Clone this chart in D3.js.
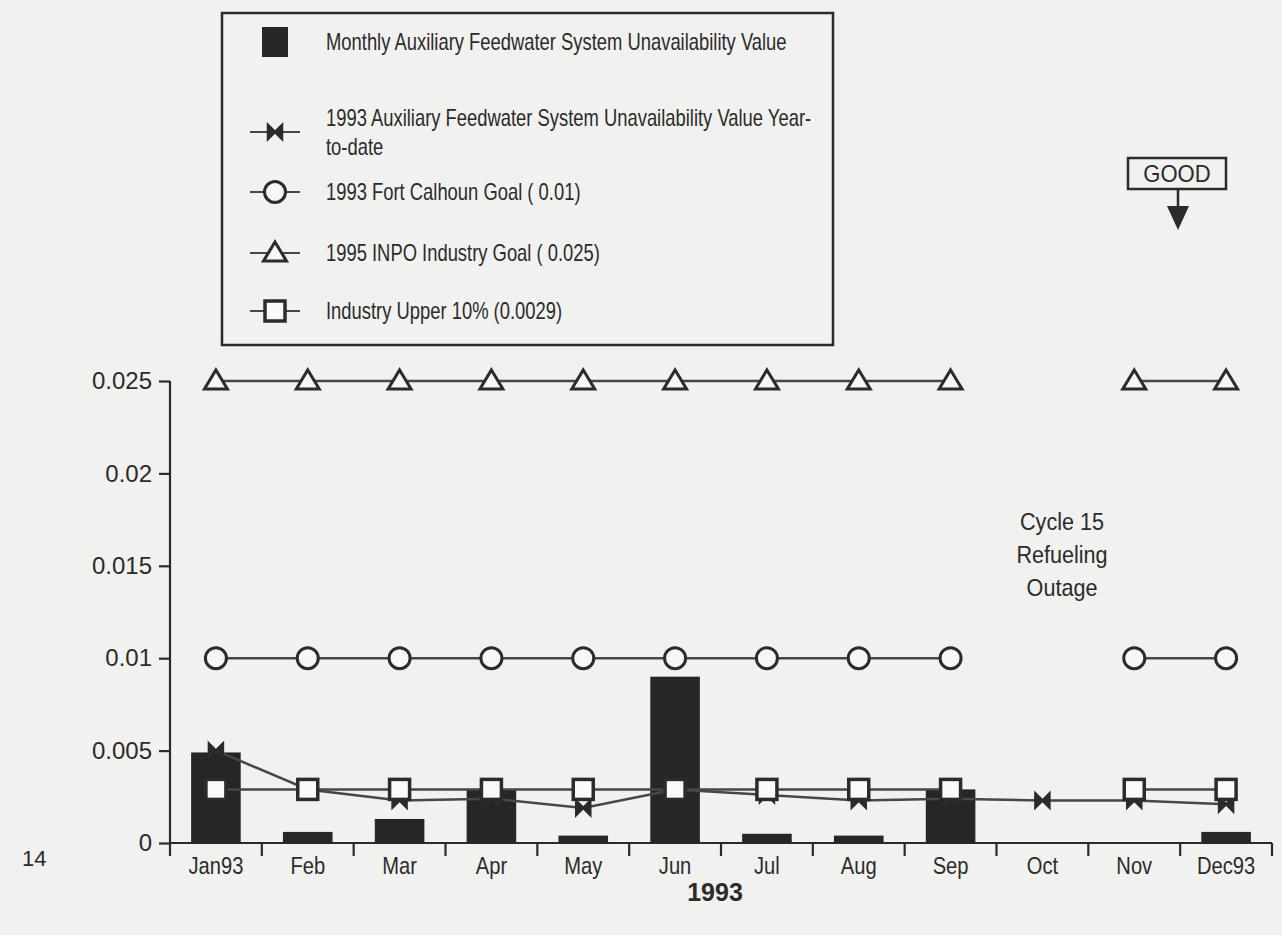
<!DOCTYPE html>
<html>
<head>
<meta charset="utf-8">
<script src="https://cdn.jsdelivr.net/npm/d3@7"></script>
<style>
  html, body { margin: 0; padding: 0; background: #f1f1ef; }
  svg text { font-family: "Liberation Sans", Arial, sans-serif; fill: #2b2b2b; }
</style>
</head>
<body>
<div id="chart"></div>
<script>
// datos
const months = ["Jan93", "Feb", "Mar", "Apr", "May", "Jun", "Jul", "Aug", "Sep", "Oct", "Nov", "Dec93"];
const monthlyValue = [0.0049, 0.0006, 0.0013, 0.0029, 0.0004, 0.0090, 0.0005, 0.0004, 0.0029, null, null, 0.0006];
const ytdValue = [0.0050, 0.0029, 0.0023, 0.0024, 0.0019, 0.0029, 0.0026, 0.0023, 0.0024, 0.0023, 0.0023, 0.0021];
const calhounGoal = [0.01, 0.01, 0.01, 0.01, 0.01, 0.01, 0.01, 0.01, 0.01, null, 0.01, 0.01];
const inpoGoal = [0.025, 0.025, 0.025, 0.025, 0.025, 0.025, 0.025, 0.025, 0.025, null, 0.025, 0.025];
const upper10 = [0.0029, 0.0029, 0.0029, 0.0029, 0.0029, 0.0029, 0.0029, 0.0029, 0.0029, null, 0.0029, 0.0029];
const yTicks = [0, 0.005, 0.01, 0.015, 0.02, 0.025];
const yTickLabels = ["0", "0.005", "0.01", "0.015", "0.02", "0.025"];
const legendLabels = [
  ["Monthly Auxiliary Feedwater System Unavailability Value"],
  ["1993 Auxiliary Feedwater System Unavailability Value Year-", "to-date"],
  ["1993 Fort Calhoun Goal ( 0.01)"],
  ["1995 INPO Industry Goal ( 0.025)"],
  ["Industry Upper 10% (0.0029)"]
];
const noteLines = ["Cycle 15", "Refueling", "Outage"];

const W = 1282, H = 935;
const ink = "#2b2b2b", lineInk = "#474747";

const svg = d3.select("#chart").append("svg")
    .attr("width", W)
    .attr("height", H);

svg.append("rect").attr("width", W).attr("height", H).attr("fill", "#f1f1ef");

// texto un poco estrecho, como la fuente del original
function label(parent, px, py, s, size, sx, anchor) {
  return parent.append("text")
      .attr("transform", "translate(" + px + "," + py + ") scale(" + sx + ",1)")
      .attr("text-anchor", anchor || "start")
      .style("font-size", size + "px")
      .text(s);
}

// escalas
const x = d3.scaleBand().domain(months).range([170, 1272]).paddingInner(0.46).paddingOuter(0.23);
const xc = m => x(m) + x.bandwidth() / 2;
const y = d3.scaleLinear().domain([0, 0.025]).range([843, 381]);

// ejes
const gy = svg.append("g").attr("transform", "translate(170,0)")
    .call(d3.axisLeft(y).tickValues(yTicks).tickFormat((d, i) => yTickLabels[i]).tickSize(11).tickPadding(7));
gy.select(".domain").attr("d", "M0," + y(0.025) + "V" + y(0));
gy.selectAll("path, line").attr("stroke", ink).attr("stroke-width", 2.2);
gy.selectAll("text").style("font-size", "24px").attr("fill", ink);

const boundaries = d3.range(months.length + 1).map(i => 170 + i * (1272 - 170) / months.length);
const gx = svg.append("g").attr("transform", "translate(0," + y(0) + ")");
gx.append("line").attr("x1", 170).attr("x2", 1272).attr("stroke", ink).attr("stroke-width", 2.2);
gx.selectAll("line.tk").data(boundaries).join("line").attr("class", "tk")
    .attr("x1", d => d).attr("x2", d => d).attr("y1", 0).attr("y2", 13)
    .attr("stroke", ink).attr("stroke-width", 2.2);
months.forEach(m => label(gx, xc(m), 31, m, 24, 0.84, "middle"));

// barras mensuales
svg.append("g").selectAll("rect").data(months.map((m, i) => ({ m, v: monthlyValue[i] })).filter(d => d.v))
  .join("rect")
    .attr("x", d => x(d.m)).attr("width", x.bandwidth())
    .attr("y", d => y(d.v)).attr("height", d => y(0) - y(d.v))
    .attr("fill", "#262626");

// simbolos
const bowtie = "M-7,-7L7,7L7,-7L-7,7Z";
function circleSym(g) { g.append("circle").attr("r", 10.5).attr("fill", "#f7f7f5").attr("stroke", ink).attr("stroke-width", 3); }
function triSym(g) { g.append("path").attr("d", "M0,-11L11.5,8L-11.5,8Z").attr("fill", "#f7f7f5").attr("stroke", ink).attr("stroke-width", 3); }
function squareSym(g) { g.append("rect").attr("x", -10).attr("y", -10).attr("width", 20).attr("height", 20).attr("fill", "#fafaf8").attr("stroke", ink).attr("stroke-width", 3.5); }
function bowSym(g) { g.append("path").attr("d", bowtie).attr("fill", ink).attr("stroke", ink).attr("stroke-width", 2.5); }

function series(vals, sym) {
  const pts = months.map((m, i) => ({ m, v: vals[i] }));
  const line = d3.line().defined(d => d.v !== null).x(d => xc(d.m)).y(d => y(d.v));
  svg.append("path").datum(pts).attr("d", line).attr("fill", "none")
      .attr("stroke", lineInk).attr("stroke-width", 2.5);
  svg.append("g").selectAll("g").data(pts.filter(d => d.v !== null)).join("g")
      .attr("transform", d => "translate(" + xc(d.m) + "," + y(d.v) + ")")
      .each(function () { sym(d3.select(this)); });
}

series(ytdValue, bowSym);
series(inpoGoal, triSym);
series(calhounGoal, circleSym);
series(upper10, squareSym);

// leyenda
const leg = svg.append("g");
leg.append("rect").attr("x", 222).attr("y", 13).attr("width", 611).attr("height", 332)
    .attr("fill", "none").attr("stroke", ink).attr("stroke-width", 2.5);
const rowsY = [42, 118, 192, 253, 311];
const syms = [null, bowSym, circleSym, triSym, squareSym];
rowsY.forEach((ry, i) => {
  const cy = i === 1 ? ry + 14 : ry;
  if (i === 0) {
    leg.append("rect").attr("x", 262).attr("y", ry - 15).attr("width", 26).attr("height", 30).attr("fill", "#262626");
  } else {
    leg.append("line").attr("x1", 250).attr("x2", 300).attr("y1", cy).attr("y2", cy)
        .attr("stroke", lineInk).attr("stroke-width", 2.2);
    const g = leg.append("g").attr("transform", "translate(275," + cy + ")");
    syms[i](g);
  }
  legendLabels[i].forEach((t, j) => label(leg, 326, ry + 8 + j * 29, t, 23, 0.8));
});

// GOOD
svg.append("rect").attr("x", 1128).attr("y", 158).attr("width", 98).attr("height", 31)
    .attr("fill", "none").attr("stroke", ink).attr("stroke-width", 2.5);
label(svg, 1177, 182, "GOOD", 24, 0.92, "middle");
svg.append("line").attr("x1", 1178).attr("x2", 1178).attr("y1", 189).attr("y2", 210)
    .attr("stroke", ink).attr("stroke-width", 2.5);
svg.append("path").attr("d", "M1167,206L1189,206L1178,230Z").attr("fill", ink);

// nota
noteLines.forEach((t, i) => label(svg, 1062, 530 + i * 33, t, 24, 0.9, "middle"));

// etiqueta del eje x y numero de pagina
svg.append("text").attr("x", 715).attr("y", 901).attr("text-anchor", "middle")
    .style("font-size", "25px").style("font-weight", "bold").text("1993");
svg.append("text").attr("x", 22).attr("y", 866).style("font-size", "22px").text("14");
</script>
</body>
</html>
